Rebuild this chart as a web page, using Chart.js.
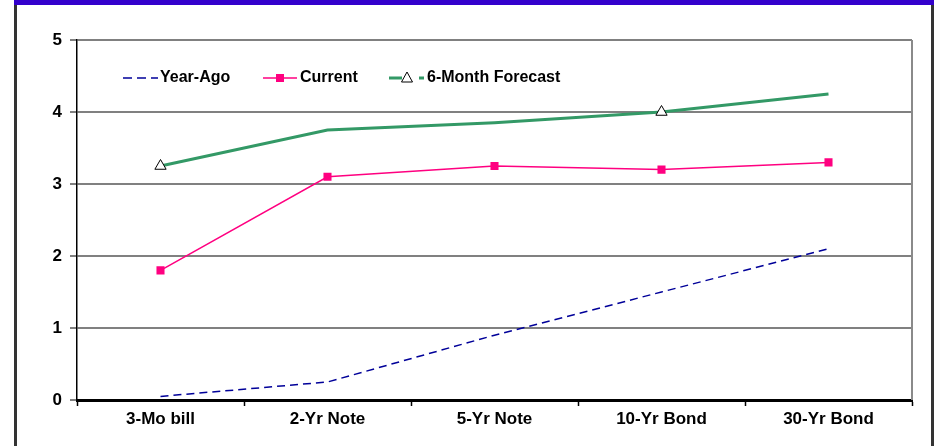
<!DOCTYPE html>
<html>
<head>
<meta charset="utf-8">
<script src="https://cdn.jsdelivr.net/npm/chart.js@4/dist/chart.umd.min.js"></script>
<style>
  html, body { margin: 0; padding: 0; background: #fff; }
  #wrap { position: relative; width: 936px; height: 446px; }
  canvas { display: block; }
</style>
</head>
<body>
<div id="wrap"><canvas id="c" width="936" height="446"></canvas></div>
<script>
// Treasury yield curve: year-ago, current and 6-month forecast (%)
const categories = ['3-Mo bill', '2-Yr Note', '5-Yr Note', '10-Yr Bond', '30-Yr Bond'];
const yearAgo    = [0.05, 0.25, 0.9, 1.5, 2.1];
const current    = [1.8, 3.1, 3.25, 3.2, 3.3];
const forecast   = [3.25, 3.75, 3.85, 4.0, 4.25];
const yTicks     = [0, 1, 2, 3, 4, 5];

const FONT = '"Liberation Sans", Arial, Helvetica, sans-serif';
const BLUE = '#000099', PINK = '#FF0080', GREEN = '#339966';

// Outer frame and plot border
const framePlugin = {
  id: 'frame',
  beforeDraw(chart) {
    const ctx = chart.ctx;
    ctx.save();
    ctx.fillStyle = '#fff';
    ctx.fillRect(0, 0, chart.width, chart.height);
    ctx.restore();
  },
  afterDraw(chart) {
    const ctx = chart.ctx, a = chart.chartArea;
    ctx.save();
    // right edge of plot area
    ctx.strokeStyle = '#8a8a8a';
    ctx.lineWidth = 2;
    ctx.beginPath();
    ctx.moveTo(a.right, a.top);
    ctx.lineTo(a.right, a.bottom);
    ctx.stroke();
    // outer frame
    ctx.fillStyle = '#333333';
    ctx.fillRect(14, 0, 3, chart.height);
    ctx.fillRect(931, 0, 3, chart.height);
    ctx.fillStyle = '#3300CC';
    ctx.fillRect(14, 0, 920, 5);
    ctx.restore();
  }
};

// Legend drawn inside the plot area
const legendPlugin = {
  id: 'insideLegend',
  afterDraw(chart) {
    const ctx = chart.ctx;
    const y = 78;
    ctx.save();
    ctx.font = 'bold 16px ' + FONT;
    ctx.fillStyle = '#000';
    ctx.textBaseline = 'middle';
    ctx.textAlign = 'left';

    // Year-Ago: dashed line
    ctx.strokeStyle = BLUE;
    ctx.lineWidth = 1.5;
    ctx.setLineDash([9, 5]);
    ctx.beginPath();
    ctx.moveTo(123, y);
    ctx.lineTo(158, y);
    ctx.stroke();
    ctx.setLineDash([]);
    ctx.fillText('Year-Ago', 160, y);

    // Current: line with square
    ctx.strokeStyle = PINK;
    ctx.lineWidth = 1.5;
    ctx.beginPath();
    ctx.moveTo(263, y);
    ctx.lineTo(297, y);
    ctx.stroke();
    ctx.fillStyle = PINK;
    ctx.fillRect(276, y - 4, 8, 8);
    ctx.fillStyle = '#000';
    ctx.fillText('Current', 300, y);

    // 6-Month Forecast: line with triangle
    ctx.strokeStyle = GREEN;
    ctx.lineWidth = 3;
    ctx.beginPath();
    ctx.moveTo(389, y);
    ctx.lineTo(402, y);
    ctx.moveTo(419, y);
    ctx.lineTo(424, y);
    ctx.stroke();
    ctx.fillStyle = '#fff';
    ctx.strokeStyle = '#000';
    ctx.lineWidth = 1;
    ctx.beginPath();
    ctx.moveTo(407, y - 6);
    ctx.lineTo(412.5, y + 4);
    ctx.lineTo(401.5, y + 4);
    ctx.closePath();
    ctx.fill();
    ctx.stroke();
    ctx.fillStyle = '#000';
    ctx.fillText('6-Month Forecast', 427, y);
    ctx.restore();
  }
};

new Chart(document.getElementById('c'), {
  type: 'line',
  data: {
    labels: categories,
    datasets: [
      {
        label: 'Year-Ago',
        data: yearAgo,
        borderColor: BLUE,
        borderWidth: 1.5,
        borderDash: [8, 5],
        pointRadius: 0,
        tension: 0,
        fill: false
      },
      {
        label: 'Current',
        data: current,
        borderColor: PINK,
        backgroundColor: PINK,
        borderWidth: 1.5,
        pointStyle: 'rect',
        pointRadius: 5.7,
        pointBorderWidth: 0,
        pointBackgroundColor: PINK,
        tension: 0,
        fill: false
      },
      {
        label: '6-Month Forecast',
        data: forecast,
        borderColor: GREEN,
        borderWidth: 3,
        pointStyle: 'triangle',
        pointRadius: [6.5, 0, 0, 6.5, 0],
        pointBackgroundColor: '#fff',
        pointBorderColor: '#000',
        pointBorderWidth: 1,
        tension: 0,
        fill: false
      }
    ]
  },
  options: {
    responsive: false,
    animation: false,
    events: [],
    layout: { padding: { left: 0, top: 40, right: 24, bottom: 0 } },
    plugins: {
      legend: { display: false },
      tooltip: { enabled: false },
      title: { display: false }
    },
    scales: {
      x: {
        type: 'category',
        offset: true,
        grid: {
          offset: true,
          drawOnChartArea: false,
          drawTicks: true,
          tickLength: 6,
          tickColor: '#000',
          tickWidth: 1.5
        },
        border: { display: true, color: '#000', width: 3 },
        ticks: {
          color: '#000',
          font: { family: FONT, size: 17, weight: 'bold' },
          padding: 3,
          maxRotation: 0
        },
        afterFit(scale) { scale.height = 46; }
      },
      y: {
        min: 0,
        max: 5,
        afterBuildTicks(scale) { scale.ticks = yTicks.map(v => ({ value: v })); },
        grid: {
          color: '#808080',
          lineWidth: 2,
          drawTicks: true,
          tickLength: 7,
          tickColor: '#000',
          tickWidth: 1
        },
        border: { display: true, color: '#000', width: 1.5 },
        ticks: {
          color: '#000',
          font: { family: FONT, size: 17, weight: 'bold' },
          padding: 8
        },
        afterFit(scale) { scale.width = 77; }
      }
    }
  },
  plugins: [framePlugin, legendPlugin]
});
</script>
</body>
</html>
